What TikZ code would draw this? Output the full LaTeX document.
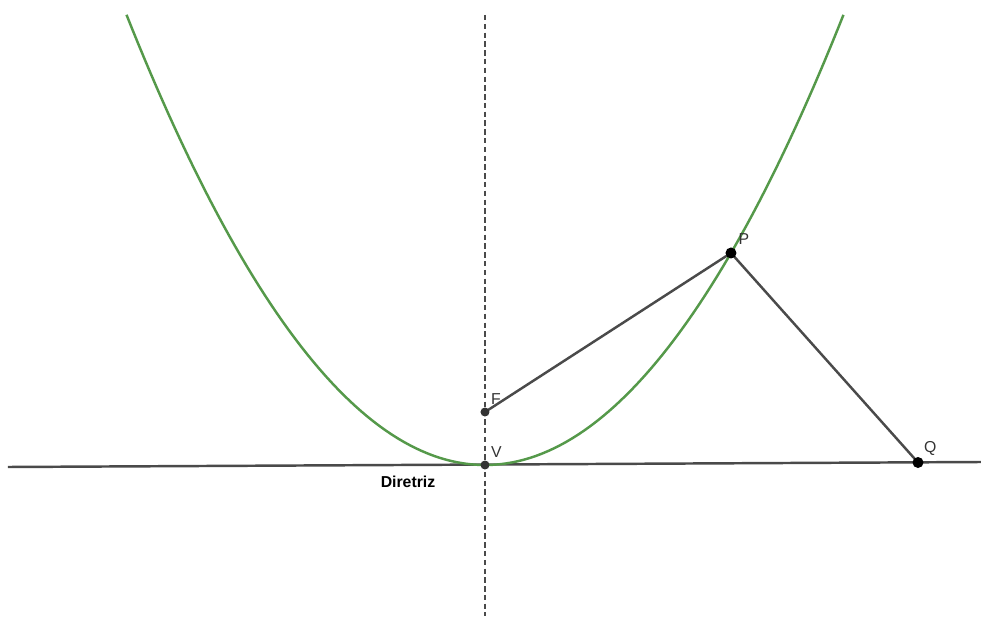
\documentclass[tikz,border=0pt]{standalone}
\usepackage{fontspec}
\setmainfont{Liberation Sans}
\usetikzlibrary{positioning}
\definecolor{Curve}{HTML}{55994A}
\definecolor{Seg}{HTML}{4A4A4A}
\definecolor{Dot}{HTML}{333333}

\begin{document}
\begin{tikzpicture}[font=\small,line width=1.4pt,
    lbl/.style={inner sep=0pt,anchor=south west,text=Dot}]
    \useasboundingbox (-9.70,-3.02) rectangle (9.92,9.30);
    % points
    \coordinate (V) at (0,0);
    \coordinate (F) at (0,1.06);
    \coordinate (P) at (4.92,4.24);
    \coordinate (Q) at (8.66,0.05);
    \coordinate (dirL) at (-9.54,-0.04);
    \coordinate (dirR) at (9.92,0.06);
    \coordinate (axT) at (0,9.0);
    \coordinate (axB) at (0,-3.02);
    % axis and directrix
    \draw[Seg,line width=1.6pt,dash pattern=on 3.1pt off 1.9pt] (axT) -- (axB);
    \draw[Seg] (dirL) -- (dirR);
    \draw[Curve,domain=-7.17:7.17,samples=120] plot (\x,{0.17515*\x*\x});
    \draw[Seg] (F) -- (P) -- (Q);
    \fill[Dot] (V) circle (0.09) (F) circle (0.09);
    \fill[black] (P) circle (0.11) (Q) circle (0.11);
    % labels
    \node[lbl,above right=0.12cm and 0.1cm of V] (lV) {V};
    \node[lbl,above right=0.12cm and 0.1cm of F] (lF) {F};
    \node[lbl,above right=0.14cm and 0.13cm of P] (lP) {P};
    \node[lbl,above right=0.12cm and 0.1cm of Q] (lQ) {Q};
    \node[font=\small\bfseries] (lDir) at (-1.54,-0.34) {Diretriz};
\end{tikzpicture}
\end{document}
